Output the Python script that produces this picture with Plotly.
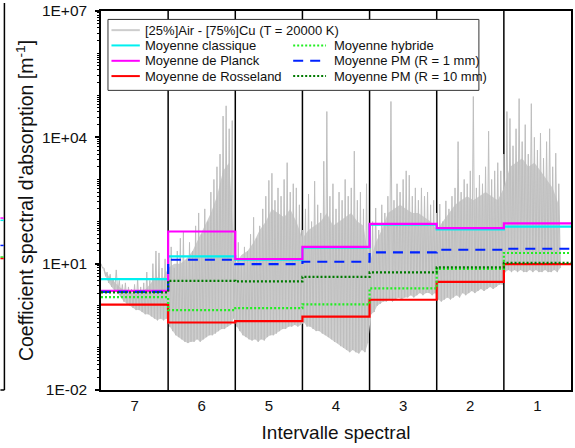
import plotly.graph_objects as go

# ---------------- data ----------------
INTERVALS = ["7", "6", "5", "4", "3", "2", "1"]

MOY_CLASSIQUE = [4.3, 14.9, 12.5, 24, 85, 65, 76]
MOY_PLANCK = [2.26, 58, 12.9, 25, 88, 70, 91]
MOY_ROSSELAND = [1.06, 0.40, 0.43, 0.55, 1.39, 3.7, 9.8]
MOY_HYBRIDE = [1.6, 0.79, 0.88, 1.08, 2.6, 7.5, 17.9]
MOY_PM_1MM = [2.14, 12.4, 9.8, 11.1, 18.5, 21.4, 22.6]
MOY_PM_10MM = [2.07, 3.9, 3.8, 4.85, 6.2, 8.2, 10.4]

# spectrum: local maxima / minima per interval (m^-1)
peak_7 = [10, 7.9, 6.3, 5.6, 4.5, 7.1, 4.0, 3.2, 3.5, 2.8, 2.5, 3.2, 4.5, 2.8, 3.5, 6.3, 4.0, 10, 20, 18, 7.9, 13]
base_7 = [7.9, 5.0, 3.5, 2.8, 2.2, 2.0, 1.6, 1.26, 1.12, 1.0, 0.89, 0.79, 0.79, 0.71, 0.63, 0.63, 0.56, 0.5, 0.45, 0.5, 0.45, 0.5]
peak_6 = [13, 25, 7.9, 20, 40, 56, 13, 32, 20, 79, 160, 50, 200, 100, 500, 1000, 2000, 4000, 32000, 56000, 16000, 25000]
base_6 = [0.32, 0.25, 0.2, 0.18, 0.16, 0.14, 0.13, 0.14, 0.14, 0.16, 0.14, 0.16, 0.18, 0.2, 0.2, 0.22, 0.25, 0.28, 0.28, 0.32, 0.35, 0.5]
peak_5 = [16, 32, 10, 25, 20, 50, 126, 40, 79, 200, 400, 950, 1400, 320, 630, 400, 1000, 2500, 500, 790, 630, 250]
base_5 = [0.32, 0.25, 0.2, 0.18, 0.16, 0.15, 0.16, 0.14, 0.16, 0.15, 0.18, 0.2, 0.2, 0.22, 0.25, 0.28, 0.28, 0.32, 0.32, 0.35, 0.32, 0.35]
peak_4 = [63, 200, 450, 100, 910, 250, 160, 2700, 41000, 400, 790, 200, 500, 320, 1000, 400, 630, 4700, 320, 500, 200, 790]
base_4 = [0.4, 0.32, 0.32, 0.28, 0.25, 0.25, 0.22, 0.2, 0.18, 0.16, 0.14, 0.13, 0.11, 0.1, 0.089, 0.079, 0.089, 0.079, 0.074, 0.089, 0.079, 0.13]
peak_3 = [32, 100, 210, 63, 250, 160, 400, 71000, 320, 790, 500, 1000, 1600, 1260, 400, 630, 320, 630, 400, 500, 250, 320]
base_3 = [0.63, 0.71, 1.0, 1.12, 1.26, 1.26, 1.41, 1.26, 1.41, 1.58, 1.41, 1.58, 1.58, 1.78, 1.58, 1.78, 2.0, 1.78, 2.0, 2.0, 1.78, 2.0]
peak_2 = [160, 260, 100, 310, 200, 400, 630, 7900, 500, 1000, 790, 1600, 93000, 630, 1260, 790, 2000, 14000, 1000, 1600, 2500, 1600]
base_2 = [1.41, 1.26, 1.41, 1.58, 1.41, 1.58, 1.78, 1.58, 2.0, 1.78, 2.0, 2.24, 2.0, 2.24, 2.5, 2.24, 2.5, 2.8, 2.5, 2.8, 3.2, 3.2]
peak_1 = [4000, 41000, 28000, 6300, 16000, 83000, 7900, 20000, 4000, 63000, 10000, 5000, 12600, 3200, 7900, 16000, 2000, 4200, 790]
base_1 = [6.3, 7.1, 6.3, 7.1, 6.3, 7.1, 6.3, 6.3, 7.1, 6.3, 7.1, 6.3, 6.3, 7.1, 6.3, 6.3, 7.1, 6.3, 7.9]

# upper level of the dense part of the spectrum (one value every two maxima)
body_7 = [8.9, 5.6, 4.0, 2.8, 2.2, 2.0, 2.0, 2.2, 3.2, 5.0, 4.0]
body_6 = [7.9, 10, 10, 13, 20, 40, 79, 160, 400, 1600, 2500]
body_5 = [10, 16, 20, 32, 63, 100, 200, 160, 126, 200, 100]
body_4 = [40, 63, 79, 100, 160, 79, 100, 126, 160, 100, 79]
body_3 = [10, 32, 63, 160, 200, 250, 200, 160, 160, 126, 100]
body_2 = [63, 100, 160, 250, 320, 400, 320, 400, 500, 400, 320]
body_1 = [630, 2000, 2500, 3200, 2000, 2500, 1600, 1000, 630, 250]

SPECTRUM_PEAKS = [peak_7, peak_6, peak_5, peak_4, peak_3, peak_2, peak_1]
SPECTRUM_BASES = [base_7, base_6, base_5, base_4, base_3, base_2, base_1]
SPECTRUM_BODY = [body_7, body_6, body_5, body_4, body_3, body_2, body_1]
SAMPLES_PER_INTERVAL = 22

Y_TICK_VALUES = [1e-2, 1e1, 1e4, 1e7]
Y_TICK_LABELS = ["1E-02", "1E+01", "1E+04", "1E+07"]
Y_DECADES = [1e-2, 1e-1, 1e0, 1e1, 1e2, 1e3, 1e4, 1e5, 1e6]

# ---------------- figure ----------------
FONT = "Arial, Liberation Sans, sans-serif"
ML, MR, MT, MB = 101, 2, 8, 58
WIDTH, HEIGHT = 575, 448
PW, PH = WIDTH - ML - MR, HEIGHT - MT - MB


def pxx(x):
    return (x - ML) / PW


def pxy(y):
    return 1 - (y - MT) / PH


fig = go.Figure()

step = 1.0 / SAMPLES_PER_INTERVAL

# dense body of the spectrum (filled)
upper_x, upper_y, lower_x, lower_y = [], [], [], []
for i, (bd, bs) in enumerate(zip(SPECTRUM_BODY, SPECTRUM_BASES)):
    for m, v in enumerate(bd):
        upper_x.append(i + 2 * m * step)
        upper_y.append(v)
    for j, b in enumerate(bs):
        lower_x.append(i + (j + 0.5) * step)
        lower_y.append(b)
fig.add_trace(go.Scatter(x=upper_x + lower_x[::-1], y=upper_y + lower_y[::-1], mode="lines",
                         fill="toself", fillcolor="rgb(206,206,206)", line=dict(width=0),
                         showlegend=False, hoverinfo="skip"))

# spikes
gx, gy = [], []
for i, (pk, bs) in enumerate(zip(SPECTRUM_PEAKS, SPECTRUM_BASES)):
    for j, (p, b) in enumerate(zip(pk, bs)):
        gx += [i + j * step, i + (j + 0.5) * step]
        gy += [p, b]
fig.add_trace(go.Scatter(x=gx, y=gy, mode="lines", line=dict(color="rgb(190,190,190)", width=1),
                         name="[25%]Air - [75%]Cu (T = 20000 K)", showlegend=False, hoverinfo="skip"))

edges = list(range(len(INTERVALS) + 1))
series = [
    ("Moyenne classique", MOY_CLASSIQUE, "#00f0f0", "solid"),
    ("Moyenne de Planck", MOY_PLANCK, "#ff00ff", "solid"),
    ("Moyenne de Rosseland", MOY_ROSSELAND, "#ff0000", "solid"),
    ("Moyenne hybride", MOY_HYBRIDE, "#22ee22", "2px,2px"),
    ("Moyenne PM (R = 1 mm)", MOY_PM_1MM, "#0022ff", "10px,7px"),
    ("Moyenne PM (R = 10 mm)", MOY_PM_10MM, "#007a00", "2px,2px"),
]
for name, vals, color, dash in series:
    fig.add_trace(go.Scatter(x=edges, y=list(vals) + [vals[-1]], mode="lines", line_shape="hv",
                             line=dict(color=color, dash=dash, width=2.2), name=name, showlegend=False))

shapes = []
# interval separators
for k in edges[1:-1]:
    shapes.append(dict(type="line", xref="x", yref="paper", x0=k, x1=k, y0=0, y1=1,
                       line=dict(color="black", width=1.5), layer="below"))

# legend box drawn by hand (two columns, as in the original)
shapes.append(dict(type="rect", xref="paper", yref="paper", x0=pxx(108), x1=pxx(480.5),
                   y0=pxy(88), y1=pxy(16.5), fillcolor="white", line=dict(color="#333", width=1),
                   layer="above"))
legend_rows = [27.3, 42.7, 58.2, 73.6]
legend_items = [
    ("[25%]Air - [75%]Cu (T = 20000 K)", "rgb(205,205,205)", "solid", 0, 0),
    (series[0][0], series[0][2], "solid", 0, 1),
    (series[1][0], series[1][2], "solid", 0, 2),
    (series[2][0], series[2][2], "solid", 0, 3),
    (series[3][0], series[3][2], "2px,2px", 1, 1),
    (series[4][0], series[4][2], "10px,7px", 1, 2),
    (series[5][0], series[5][2], "2px,2px", 1, 3),
]
cols = [(111.5, 140, 143.5), (294, 327, 333)]
annotations = []
for label, color, dash, c, r in legend_items:
    l0, l1, tx = cols[c]
    y = legend_rows[r]
    shapes.append(dict(type="line", xref="paper", yref="paper", x0=pxx(l0), x1=pxx(l1),
                       y0=pxy(y), y1=pxy(y), line=dict(color=color, dash=dash, width=2), layer="above"))
    annotations.append(dict(xref="paper", yref="paper", x=pxx(tx), y=pxy(y), text=label,
                            showarrow=False, xanchor="left", yanchor="middle",
                            font=dict(family=FONT, size=13, color="#111")))

# cropped fragment of the neighbouring panel at the far left
shapes.append(dict(type="line", xref="paper", yref="paper", x0=pxx(4), x1=pxx(4), y0=pxy(390), y1=pxy(0),
                   line=dict(color="black", width=1.5)))
shapes.append(dict(type="line", xref="paper", yref="paper", x0=pxx(0), x1=pxx(4), y0=pxy(390), y1=pxy(390),
                   line=dict(color="black", width=1.5)))
for yy, col in [(216.7, "#ff00ff"), (219, "#00f0f0"), (244.3, "#0022ff"), (256, "#22ee22"), (257.5, "#ff0000")]:
    shapes.append(dict(type="line", xref="paper", yref="paper", x0=pxx(0), x1=pxx(3.3), y0=pxy(yy), y1=pxy(yy),
                       line=dict(color=col, width=1.5)))

minor_vals = [m * d for d in Y_DECADES for m in range(1, 10) if m * d not in Y_TICK_VALUES]

fig.update_layout(
    width=WIDTH, height=HEIGHT,
    margin=dict(l=ML, r=MR, t=MT, b=MB, pad=0),
    paper_bgcolor="white", plot_bgcolor="white",
    font=dict(family=FONT, color="#111"),
    showlegend=False,
    shapes=shapes, annotations=annotations,
    xaxis=dict(range=[0, len(INTERVALS)], tickvals=[i + 0.5 for i in range(len(INTERVALS))],
               ticktext=INTERVALS, ticks="", showline=True, linecolor="black", linewidth=1.5,
               mirror=True, showgrid=False, zeroline=False, tickfont=dict(size=15),
               ticklabelstandoff=1,
               title=dict(text="Intervalle spectral", font=dict(size=19), standoff=13)),
    yaxis=dict(type="log", range=[-2.0005, 7.0005], tickvals=Y_TICK_VALUES, ticktext=Y_TICK_LABELS,
               ticks="outside", ticklen=4, tickwidth=1.5, tickcolor="black",
               showline=True, linecolor="black", linewidth=1.5, mirror=True,
               showgrid=False, zeroline=False, tickfont=dict(size=15.5),
               ticklabelstandoff=5, ticklabeloverflow="allow",
               minor=dict(tickvals=minor_vals, ticks="outside", ticklen=2.5, tickwidth=1,
                          tickcolor="black", showgrid=False),
               title=dict(text="Coefficient spectral d'absorption [m<sup>-1</sup>]",
                          font=dict(size=19.5), standoff=3)),
)

fig.write_html("out.html", config={"displayModeBar": False},
               post_script="document.body.style.margin='0';document.body.style.overflow='hidden';")
